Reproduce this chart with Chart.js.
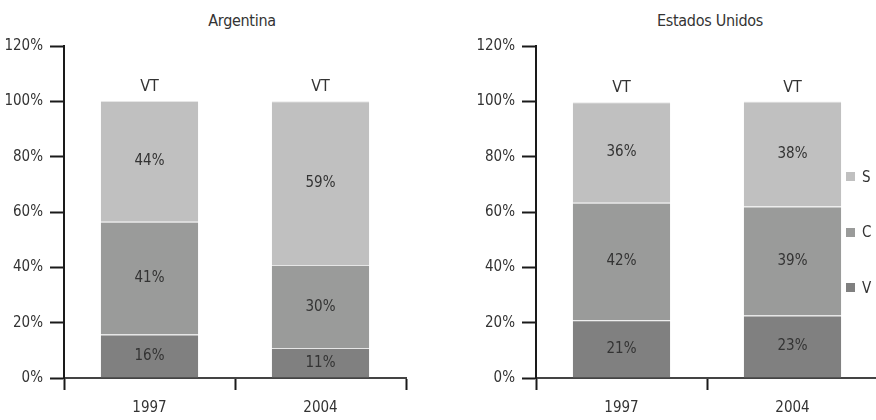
<!DOCTYPE html>
<html>
<head>
<meta charset="utf-8">
<script src="https://cdn.jsdelivr.net/npm/chart.js@4.4.1/dist/chart.umd.min.js"></script>
<style>
  body { margin: 0; width: 876px; height: 420px; overflow: hidden; background: #fff; position: relative;
         font-family: "Liberation Sans Narrow", "DejaVu Sans Condensed", sans-serif; color: #333; }
  canvas { position: absolute; top: 0; }
  #cArg { left: 0; }
  #cUsa { left: 440px; }
  .title { position: absolute; top: 11px; font-size: 16px; transform: translateX(-50%); white-space: nowrap; letter-spacing: -0.3px; }
  .legend { position: absolute; left: 846px; top: 149px; font-size: 15px; }
  .legend div { height: 55.5px; display: flex; align-items: center; }
  .legend span { display: inline-block; width: 9px; height: 9px; margin-right: 7px; }
</style>
</head>
<body>
<div class="title" style="left:242px">Argentina</div>
<div class="title" style="left:710px">Estados Unidos</div>
<canvas id="cArg" width="484" height="420"></canvas>
<canvas id="cUsa" width="540" height="420"></canvas>
<div class="legend" id="legend"></div>
<script>
const FONT = '"Liberation Sans Narrow", "DejaVu Sans Condensed", sans-serif';

// categories and ticks
const years = ['1997', '2004'];
const yTickValues = [0, 20, 40, 60, 80, 100, 120];
const barTopLabels = ['VT', 'VT'];

// series
const seriesNames = ['V', 'C', 'S'];
const seriesColors = ['#808080', '#9a9b9a', '#c0c0c0'];

// Argentina (% of total)
const argV = [15.7, 10.8];
const argC = [40.8, 30.0];
const argS = [43.6, 59.2];

// Estados Unidos (% of total)
const usaV = [20.9, 22.6];
const usaC = [42.4, 39.4];
const usaS = [36.4, 37.9];

Chart.defaults.font.family = FONT;
Chart.defaults.font.size = 15;
Chart.defaults.color = '#333';

const barLabels = {
  id: 'barLabels',
  afterDatasetsDraw(chart) {
    const ctx = chart.ctx;
    ctx.save();
    ctx.fillStyle = '#333';
    ctx.font = '15px ' + FONT;
    ctx.textAlign = 'center';
    ctx.textBaseline = 'middle';
    chart.data.datasets.forEach((ds, i) => {
      chart.getDatasetMeta(i).data.forEach((bar, j) => {
        ctx.fillText(Math.round(ds.data[j]) + '%', bar.x, (bar.y + bar.base) / 2);
      });
    });
    const top = chart.getDatasetMeta(chart.data.datasets.length - 1);
    ctx.textBaseline = 'bottom';
    ctx.font = '16px ' + FONT;
    top.data.forEach((bar, j) => ctx.fillText(barTopLabels[j], bar.x, bar.y - 6));
    ctx.restore();
  }
};

function makeChart(id, v, c, s, padLeft, padRight) {
  const series = [v, c, s];
  new Chart(document.getElementById(id), {
    type: 'bar',
    data: {
      labels: years,
      datasets: series.map((d, i) => ({
        label: seriesNames[i],
        data: d,
        backgroundColor: seriesColors[i],
        borderColor: '#e6e6e6',
        borderWidth: { top: 1, left: 0, right: 0, bottom: 0 },
        borderSkipped: false,
        categoryPercentage: 1,
        barPercentage: 0.57
      }))
    },
    options: {
      responsive: false,
      animation: false,
      layout: { padding: { top: 46, left: padLeft, right: padRight, bottom: 0 } },
      plugins: { legend: { display: false }, tooltip: { enabled: false } },
      scales: {
        x: {
          stacked: true,
          afterFit: sc => { sc.height = 42; },
          border: { display: true, color: '#444', width: 2 },
          grid: { drawOnChartArea: false, drawTicks: true, tickLength: 12, tickWidth: 2, tickColor: '#1a1a1a', color: '#1a1a1a' },
          ticks: { padding: 9, color: '#333' }
        },
        y: {
          stacked: true,
          min: yTickValues[0],
          max: yTickValues[yTickValues.length - 1],
          afterFit: sc => { sc.width = 64; },
          border: { display: true, color: '#1a1a1a', width: 2 },
          grid: { drawOnChartArea: false, drawTicks: true, tickLength: 14, tickWidth: 2, tickColor: '#1a1a1a', color: '#1a1a1a' },
          ticks: { stepSize: yTickValues[1] - yTickValues[0], padding: 7, color: '#333', callback: val => val + '%' }
        }
      }
    },
    plugins: [barLabels]
  });
}

makeChart('cArg', argV, argC, argS, 0, 78);
makeChart('cUsa', usaV, usaC, usaS, 32, 102);

// legend, top to bottom: S, C, V
const legend = document.getElementById('legend');
for (let i = seriesNames.length - 1; i >= 0; i--) {
  const row = document.createElement('div');
  row.innerHTML = '<span style="background:' + seriesColors[i] + '"></span>' + seriesNames[i];
  legend.appendChild(row);
}
</script>
</body>
</html>
